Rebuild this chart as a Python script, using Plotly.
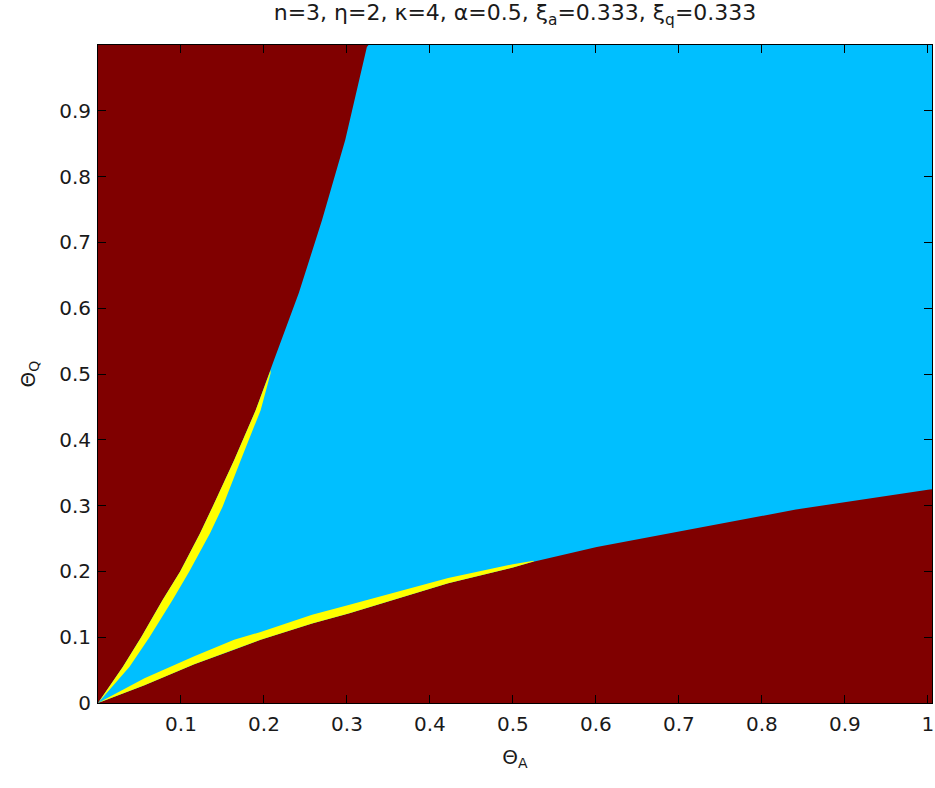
import plotly.graph_objects as go

# Boundary between dark-red region (upper-left) and the cyan/yellow region
upper_edge_x = [0.0, 0.030, 0.052, 0.078, 0.099, 0.123, 0.138, 0.164, 0.190, 0.206, 0.212, 0.242, 0.270, 0.298, 0.324, 0.326]
upper_edge_y = [0.0, 0.055, 0.100, 0.157, 0.200, 0.258, 0.298, 0.369, 0.445, 0.501, 0.521, 0.623, 0.734, 0.856, 0.997, 1.0]

# Yellow band along the upper boundary
upper_band_y = [0.0, 0.055, 0.100, 0.157, 0.200, 0.258, 0.298, 0.369, 0.445, 0.501, 0.506]
upper_band_outer_x = [0.0, 0.030, 0.052, 0.078, 0.099, 0.123, 0.138, 0.164, 0.190, 0.206, 0.208]
upper_band_inner_x = [0.0, 0.038, 0.062, 0.090, 0.110, 0.135, 0.150, 0.172, 0.196, 0.208, 0.208]

# Boundary between cyan/yellow region and the dark-red region (lower-right)
lower_edge_x = [0.0, 0.056, 0.116, 0.164, 0.196, 0.258, 0.302, 0.422, 0.500, 0.522, 0.601, 0.661, 0.721, 0.841, 1.0, 1.01]
lower_edge_y = [0.0, 0.027, 0.059, 0.081, 0.096, 0.121, 0.136, 0.182, 0.206, 0.214, 0.237, 0.251, 0.266, 0.294, 0.324, 0.326]

# Yellow band along the lower boundary
lower_band_x = [0.0, 0.056, 0.116, 0.164, 0.196, 0.258, 0.302, 0.422, 0.500, 0.525]
lower_band_top_y = [0.0, 0.0375, 0.071, 0.096, 0.108, 0.134, 0.149, 0.190, 0.211, 0.216]
lower_band_bottom_y = [0.0, 0.027, 0.059, 0.081, 0.096, 0.121, 0.136, 0.182, 0.206, 0.215]

x_ticks = [0.1, 0.2, 0.3, 0.4, 0.5, 0.6, 0.7, 0.8, 0.9, 1.0]
x_tick_text = ["0.1", "0.2", "0.3", "0.4", "0.5", "0.6", "0.7", "0.8", "0.9", "1"]
y_ticks = [0.0, 0.1, 0.2, 0.3, 0.4, 0.5, 0.6, 0.7, 0.8, 0.9]
y_tick_text = ["0", "0.1", "0.2", "0.3", "0.4", "0.5", "0.6", "0.7", "0.8", "0.9"]

DARK_RED = "#800000"
CYAN = "#00BFFF"
YELLOW = "#FFFF00"

fig = go.Figure()

# cyan region (closed along the right edge of the axes)
fig.add_trace(go.Scatter(x=upper_edge_x + [lower_edge_x[-1]] + lower_edge_x[::-1],
                         y=upper_edge_y + [1.0] + lower_edge_y[::-1],
                         mode="lines", fill="toself", fillcolor=CYAN,
                         line=dict(width=0, color=CYAN), hoverinfo="skip", showlegend=False))

# upper yellow band
fig.add_trace(go.Scatter(x=upper_band_outer_x + upper_band_inner_x[::-1],
                         y=upper_band_y + upper_band_y[::-1],
                         mode="lines", fill="toself", fillcolor=YELLOW,
                         line=dict(width=0, color=YELLOW), hoverinfo="skip", showlegend=False))

# lower yellow band
fig.add_trace(go.Scatter(x=lower_band_x + lower_band_x[::-1],
                         y=lower_band_bottom_y + lower_band_top_y[::-1],
                         mode="lines", fill="toself", fillcolor=YELLOW,
                         line=dict(width=0, color=YELLOW), hoverinfo="skip", showlegend=False))

FONT = "DejaVu Sans, Verdana, sans-serif"
TXT = "#1a1a1a"

fig.update_layout(
    width=935, height=788,
    margin=dict(l=98, r=3, t=45, b=85),
    paper_bgcolor="white",
    plot_bgcolor=DARK_RED,
    font=dict(family=FONT, size=20, color=TXT),
    title=dict(
        text="n=3, η=2, κ=4, α=0.5, ξ<sub>a</sub>=0.333, ξ<sub>q</sub>=0.333",
        x=0.5, xanchor="center", xref="paper",
        y=0.984, yanchor="middle", yref="container",
        font=dict(family=FONT, size=22, color=TXT),
    ),
    xaxis=dict(
        range=[0.0, 1.005], tickvals=x_ticks, ticktext=x_tick_text,
        ticks="inside", ticklen=8, tickcolor="black", tickwidth=1,
        showline=True, linecolor="black", linewidth=1, mirror="ticks",
        showgrid=False, zeroline=False, ticklabelstandoff=3,
        ticklabeloverflow="allow",
        automargin=False,
        tickfont=dict(size=20),
        title=dict(text="Θ<sub>A</sub>", standoff=14, font=dict(size=20)),
    ),
    yaxis=dict(
        range=[0.0, 1.0], tickvals=y_ticks, ticktext=y_tick_text,
        ticks="inside", ticklen=8, tickcolor="black", tickwidth=1,
        showline=True, linecolor="black", linewidth=1, mirror="ticks",
        showgrid=False, zeroline=False, ticklabelstandoff=2,
        ticklabeloverflow="allow",
        automargin=False,
        tickfont=dict(size=20),
        title=dict(text="Θ<sub>Q</sub>", standoff=18, font=dict(size=20)),
    ),
)

fig.write_html("out.html", config={"displayModeBar": False},
               post_script="document.body.style.margin='0';")
